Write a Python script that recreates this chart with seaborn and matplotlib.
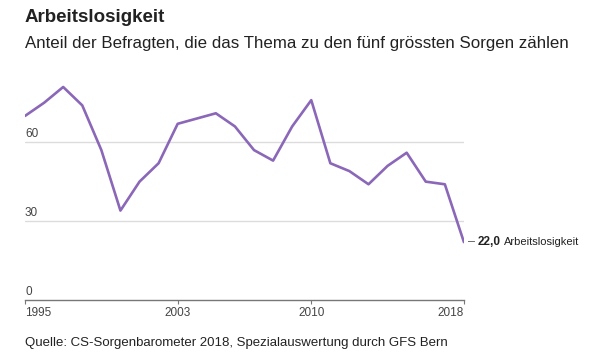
import numpy as np
import pandas as pd
import matplotlib
matplotlib.use("Agg")
import matplotlib.pyplot as plt
import seaborn as sns

# Daten
years = list(range(1995, 2019))
values = [70, 75, 81, 74, 57, 34, 45, 52, 67, 69, 71, 66,
          57, 53, 66, 76, 52, 49, 44, 51, 56, 45, 44, 22]
y_ticks = [0, 30, 60]
x_ticks = [1995, 2003, 2010, 2018]

title = "Arbeitslosigkeit"
subtitle = "Anteil der Befragten, die das Thema zu den fünf grössten Sorgen zählen"
source = "Quelle: CS-Sorgenbarometer 2018, Spezialauswertung durch GFS Bern"
end_label = "Arbeitslosigkeit"

df = pd.DataFrame({"Jahr": years, "Anteil": values})

sns.set_style("white")
plt.rcParams["font.family"] = ["Liberation Sans", "DejaVu Sans"]

purple = "#8b67b8"
grid_c = "#dcdcdc"
text_c = "#222222"

fig = plt.figure(figsize=(6, 3.55), dpi=100)
ax = fig.add_axes([0.0417, 0.155, 0.7315, 0.637])

sns.lineplot(data=df, x="Jahr", y="Anteil", color=purple, linewidth=1.9, ax=ax)

ax.set_xlim(years[0], years[-1])
ax.set_ylim(0, 86)
for s in ["top", "right", "left"]:
    ax.spines[s].set_visible(False)
ax.spines["bottom"].set_color("#777777")
ax.spines["bottom"].set_linewidth(1.0)
ax.spines["bottom"].set_zorder(3)

for v in y_ticks[1:]:
    ax.axhline(v, color=grid_c, linewidth=1.0, zorder=0)
ax.set_yticks([])
for v in y_ticks:
    ax.text(years[0], v + 0.8, str(v), fontsize=8.5, color="#444444",
            ha="left", va="bottom")

ax.set_xticks(x_ticks)
ax.set_xticklabels([str(x) for x in x_ticks], fontsize=8.5, color="#444444")
ax.tick_params(axis="x", length=3, width=0.8, color="#777777", pad=2, bottom=True)
labels = ax.get_xticklabels()
labels[0].set_ha("left")
labels[-1].set_ha("right")
ax.set_xlabel("")
ax.set_ylabel("")

# Endbeschriftung
ax.annotate("–", xy=(years[-1], values[-1]), xytext=(3, 0), textcoords="offset points",
            va="center", ha="left", fontsize=9, color="#555555", annotation_clip=False)
ax.annotate(f"{values[-1]:.1f}".replace(".", ","), xy=(years[-1], values[-1]),
            xytext=(10, 0), textcoords="offset points", va="center", ha="left",
            fontsize=8.5, fontweight="bold", color=text_c, annotation_clip=False)
ax.annotate(end_label, xy=(years[-1], values[-1]), xytext=(28.5, 0),
            textcoords="offset points", va="center", ha="left",
            fontsize=8, color=text_c, annotation_clip=False)

fig.text(0.0417, 0.952, title, fontsize=13.5, fontweight="bold", color=text_c,
         ha="left", va="center")
fig.text(0.0417, 0.878, subtitle, fontsize=12.2, color=text_c, ha="left", va="center")
fig.text(0.0417, 0.034, source, fontsize=9.5, color=text_c, ha="left", va="center")

fig.savefig("out.png", dpi=100)
